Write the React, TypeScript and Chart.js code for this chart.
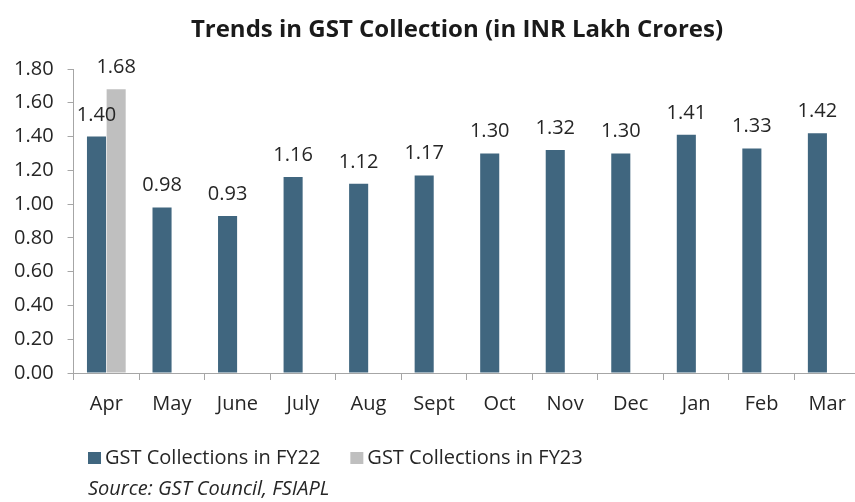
import React, { useEffect, useRef } from "react";
import { Chart, registerables } from "chart.js";

Chart.register(...registerables);

const categories = ["Apr", "May", "June", "July", "Aug", "Sept", "Oct", "Nov", "Dec", "Jan", "Feb", "Mar"];
const fy22 = [1.40, 0.98, 0.93, 1.16, 1.12, 1.17, 1.30, 1.32, 1.30, 1.41, 1.33, 1.42];
const fy23: (number | null)[] = [1.68, null, null, null, null, null, null, null, null, null, null, null];
const seriesNames = ["GST Collections in FY22", "GST Collections in FY23"];
const yTicks = [0, 0.2, 0.4, 0.6, 0.8, 1.0, 1.2, 1.4, 1.6, 1.8];
const titleText = "Trends in GST Collection (in INR Lakh Crores)";
const sourceText = "Source: GST Council, FSIAPL";

const FONT = "'Open Sans', sans-serif";
const TEXT = "#262626";

const extrasPlugin = {
  id: "extras",
  afterDatasetsDraw(chart: any) {
    const ctx = chart.ctx;
    ctx.save();
    ctx.fillStyle = TEXT;
    ctx.font = `20px ${FONT}`;
    ctx.textAlign = "center";
    ctx.textBaseline = "alphabetic";
    chart.data.datasets.forEach((ds: any, i: number) => {
      const meta = chart.getDatasetMeta(i);
      meta.data.forEach((el: any, j: number) => {
        const v = ds.data[j];
        if (v === null || v === undefined) return;
        ctx.fillText(v.toFixed(2), el.x, el.y - 16);
      });
    });
    ctx.restore();
  },
  afterDraw(chart: any) {
    const ctx = chart.ctx;
    ctx.save();
    // title
    ctx.fillStyle = "#1a1a1a";
    ctx.font = `bold 24px ${FONT}`;
    ctx.textAlign = "center";
    ctx.textBaseline = "middle";
    ctx.fillText(titleText, 457, 30);
    // legend
    ctx.font = `20px ${FONT}`;
    ctx.textAlign = "left";
    let x = 88;
    const ly = 458;
    chart.data.datasets.forEach((ds: any) => {
      ctx.fillStyle = ds.backgroundColor;
      ctx.fillRect(x, ly - 6, 13, 12);
      ctx.fillStyle = TEXT;
      ctx.fillText(ds.label, x + 17, ly);
      x += 17 + ctx.measureText(ds.label).width + 30;
    });
    // source
    ctx.font = `italic 20px ${FONT}`;
    ctx.fillStyle = TEXT;
    ctx.fillText(sourceText, 88, 489);
    ctx.restore();
  },
};

export default function App() {
  const ref = useRef<HTMLCanvasElement | null>(null);
  useEffect(() => {
    if (!ref.current) return;
    const chart = new Chart(ref.current, {
      type: "bar",
      data: {
        labels: categories,
        datasets: [
          { label: seriesNames[0], data: fy22, backgroundColor: "#40667F" },
          { label: seriesNames[1], data: fy23, backgroundColor: "#BFBFBF" },
        ],
      },
      options: {
        animation: false,
        responsive: true,
        maintainAspectRatio: false,
        layout: { padding: { top: 69, right: 3, bottom: 74, left: 0 } },
        datasets: { bar: { categoryPercentage: 0.6, barPercentage: 0.97 } },
        plugins: {
          legend: { display: false },
          title: { display: false },
          tooltip: { enabled: false },
        },
        scales: {
          x: {
            grid: { display: true, drawOnChartArea: false, drawTicks: true, tickLength: 7, color: "#A6A6A6", offset: true },
            border: { display: true, color: "#A6A6A6" },
            ticks: { color: TEXT, font: { family: FONT, size: 20 }, padding: 12 },
          },
          y: {
            min: 0,
            max: 1.8,
            afterBuildTicks(scale: any) {
              scale.ticks = yTicks.map((v) => ({ value: v }));
            },
            grid: { display: true, drawOnChartArea: false, drawTicks: true, tickLength: 6, color: "#A6A6A6" },
            border: { display: true, color: "#A6A6A6" },
            ticks: {
              color: TEXT,
              font: { family: FONT, size: 20 },
              padding: 14,
              callback: (v: any) => Number(v).toFixed(2),
            },
          },
        },
      },
      plugins: [extrasPlugin],
    });
    return () => chart.destroy();
  }, []);
  return (
    <div style={{ position: "absolute", left: 0, top: 0, width: 855, height: 502, overflow: "hidden", background: "#fff" }}>
      <div style={{ position: "relative", width: 863, height: 502 }}>
        <canvas ref={ref} />
      </div>
    </div>
  );
}
